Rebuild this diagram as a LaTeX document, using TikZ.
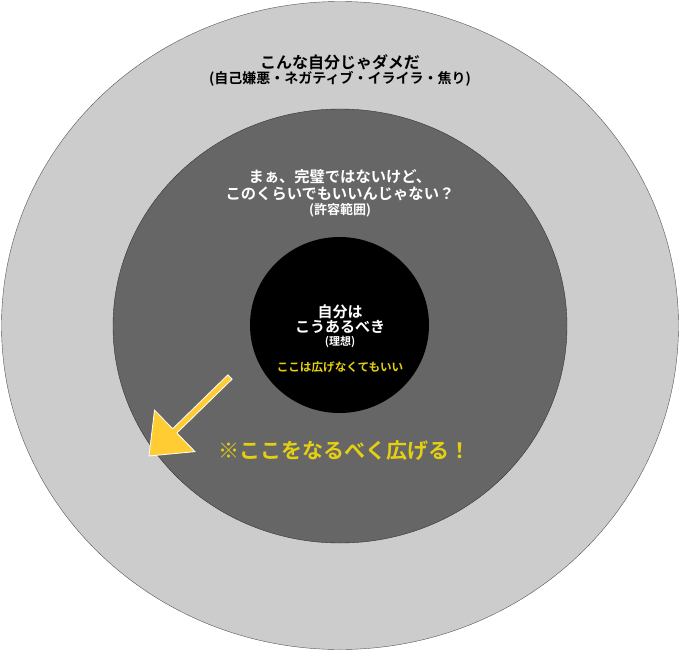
\documentclass[tikz,border=0pt]{standalone}
\usepackage{fontspec}
\setmainfont{Noto Sans CJK JP}[BoldFont=* Bold]
\usetikzlibrary{calc, shapes.geometric}

\definecolor{ringgray}{HTML}{CCCCCC}
\definecolor{middlegray}{HTML}{666666}
\definecolor{edgegray}{HTML}{555555}
\definecolor{hintyellow}{RGB}{228,208,16}
\definecolor{arrowyellow}{HTML}{FFCC33}

\tikzset{
  ring/.style={ellipse, inner sep=0pt, outer sep=0pt},
  jp/.style={inner sep=0pt, anchor=base, font=\bfseries\fontsize{#1}{#1}\selectfont},
}

\begin{document}
\begin{tikzpicture}[x=1pt, y=-1pt]
  \useasboundingbox (0,0) rectangle (680,651);

  % the three zones
  \node[ring, fill=ringgray, draw=edgegray, minimum width=677pt, minimum height=648pt] (outer) at (340,325.5) {};
  \node[ring, fill=middlegray, draw=black!80, minimum width=454pt, minimum height=434pt] (middle) at (340,326) {};
  \node[ring, fill=black, minimum width=179pt, minimum height=176pt] (inner) at (339.5,325) {};

  % outer zone
  \node[jp=16] (dame) at (340,68) {こんな自分じゃダメだ};
  \node[jp=14] (damenote) at (340,83.3) {(自己嫌悪・ネガティブ・イライラ・焦り)};

  % middle zone
  \node[jp=15.3, white] (mama) at (340,182.8) {まぁ、完璧ではないけど、};
  \node[jp=15.3, white] (iinja) at (340,199.8) {このくらいでもいいんじゃない？};
  \node[jp=13, white] (kyoyo) at (340,214) {(許容範囲)};

  % inner zone
  \node[jp=15, white] (jibun) at (340,317.2) {自分は};
  \node[jp=15, white] (bekki) at (340,332.7) {こうあるべき};
  \node[jp=11, white] (riso) at (340,345.7) {(理想)};
  \node[jp=11.6, hintyellow] (hirogenai) at (340,371.9) {ここは広げなくてもいい};

  \node[jp=21, hintyellow] (hirogeru) at (344,458) {※ここをなるべく広げる！};

  % block arrow toward the middle zone edge
  \coordinate (tip) at (149,456);
  \coordinate (tail) at (230,377);
  \coordinate (hbase) at ($(tip)!36pt!(tail)$); % middle of the head base
  \draw[draw=white, fill=arrowyellow, line width=0.8pt]
    (tip) -- ($(hbase)!29pt!90:(tail)$) -- ($(hbase)!3pt!90:(tail)$)
    -- ($(tail)!3pt!-90:(hbase)$) -- ($(tail)!3pt!90:(hbase)$)
    -- ($(hbase)!3pt!-90:(tail)$) -- ($(hbase)!29pt!-90:(tail)$) -- cycle;
\end{tikzpicture}
\end{document}
